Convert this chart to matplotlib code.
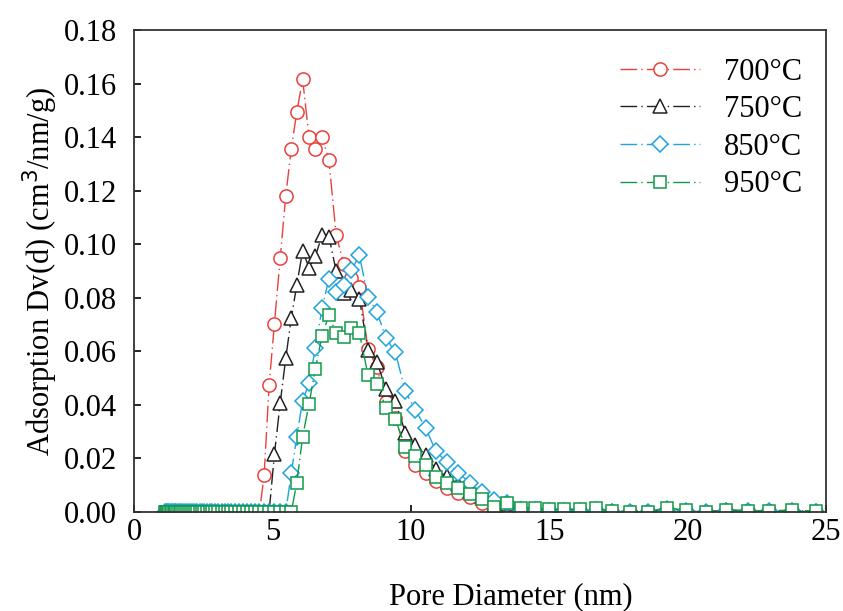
import matplotlib.pyplot as plt
from matplotlib.ticker import FormatStrFormatter

plt.rcParams['font.family'] = ['Liberation Serif', 'DejaVu Serif']

# pore diameter grid (nm), shared by all four samples
pore_d = [1.11, 1.15, 1.19, 1.23, 1.28, 1.33, 1.38, 1.43, 1.48, 1.53, 1.59, 1.65,
          1.71, 1.77, 1.84, 1.90, 1.97, 2.05, 2.12, 2.20, 2.28, 2.37, 2.45, 2.54,
          2.64, 2.73, 2.83, 2.94, 3.04, 3.16, 3.27, 3.39, 3.52, 3.65, 3.78, 3.92,
          4.07, 4.22, 4.37, 4.53,
          4.70, 4.88, 5.07, 5.28, 5.48, 5.68, 5.88, 6.09, 6.32, 6.55, 6.79, 7.04,
          7.30, 7.57, 7.85, 8.14, 8.45, 8.77, 9.10, 9.44, 9.80, 10.16, 10.53, 10.90,
          11.29, 11.70, 12.13, 12.57, 13.02, 13.49, 13.97, 14.48, 15.00, 15.54, 16.10,
          16.68, 17.28, 17.92, 18.57, 19.24, 19.93, 20.65, 21.39, 22.16, 22.95, 23.78,
          24.65]

zeros40 = [0.0] * 40

dv_700 = zeros40 + [
    0.0138, 0.0475, 0.0702, 0.0948, 0.1180, 0.1357, 0.1493, 0.1616, 0.1400, 0.1354,
    0.1402, 0.1313, 0.1035, 0.0927, 0.0875, 0.0841, 0.0610, 0.0540, 0.0410, 0.0352,
    0.0228, 0.0176, 0.0145, 0.0115, 0.0090, 0.0072, 0.0055, 0.0035, 0.0006, 0.0010,
    0.0004, 0.0004, 0.0002, 0.0003, 0.0003, 0.0005, 0.0001, 0.0000, 0.0000, 0.0008,
    0.0002, 0.0000, 0.0004, 0.0002, 0.0002, 0.0003, 0.0001]

dv_750 = zeros40 + [
    0.0000, 0.0000, 0.0215, 0.0407, 0.0574, 0.0724, 0.0849, 0.0975, 0.0912, 0.0955,
    0.1033, 0.1028, 0.0900, 0.0816, 0.0828, 0.0797, 0.0606, 0.0562, 0.0459, 0.0413,
    0.0296, 0.0250, 0.0212, 0.0160, 0.0135, 0.0105, 0.0080, 0.0055, 0.0025, 0.0030,
    0.0012, 0.0012, 0.0008, 0.0008, 0.0008, 0.0012, 0.0003, 0.0000, 0.0000, 0.0014,
    0.0005, 0.0000, 0.0007, 0.0004, 0.0004, 0.0005, 0.0002]

dv_850 = zeros40 + [
    0.0000, 0.0000, 0.0000, 0.0000, 0.0000, 0.0145, 0.0281, 0.0416, 0.0480, 0.0612,
    0.0760, 0.0871, 0.0821, 0.0846, 0.0902, 0.0958, 0.0803, 0.0748, 0.0650, 0.0596,
    0.0450, 0.0382, 0.0314, 0.0228, 0.0186, 0.0147, 0.0110, 0.0074, 0.0045, 0.0035,
    0.0008, 0.0005, 0.0003, 0.0003, 0.0003, 0.0004, 0.0001, 0.0000, 0.0000, 0.0008,
    0.0002, 0.0000, 0.0003, 0.0002, 0.0002, 0.0003, 0.0001]

dv_950 = zeros40 + [
    0.0000, 0.0000, 0.0000, 0.0000, 0.0000, 0.0000, 0.0110, 0.0281, 0.0403, 0.0535,
    0.0658, 0.0735, 0.0667, 0.0653, 0.0686, 0.0669, 0.0512, 0.0478, 0.0390, 0.0346,
    0.0243, 0.0209, 0.0175, 0.0129, 0.0110, 0.0088, 0.0069, 0.0047, 0.0019, 0.0035,
    0.0015, 0.0015, 0.0011, 0.0011, 0.0011, 0.0014, 0.0005, 0.0001, 0.0001, 0.0016,
    0.0006, 0.0001, 0.0009, 0.0005, 0.0005, 0.0007, 0.0003]

labels = ['700°C', '750°C', '850°C', '950°C']
colors = ['#E8413C', '#222222', '#1CA3E0', '#109A4A']
markers = ['o', '^', 'D', 's']
msizes = [9.5, 9.5, 7.8, 8.2]

fig = plt.figure(figsize=(8.43, 6.11), dpi=100)
ax = fig.add_axes([0.159, 0.162, 0.821, 0.789])

for y, lab, c, m, ms in zip([dv_700, dv_750, dv_850, dv_950], labels, colors, markers, msizes):
    ax.plot(pore_d, y, color=c, linestyle=(0, (12, 3, 1, 3)), linewidth=1.0,
            marker=m, markersize=ms, markerfacecolor='white', markeredgecolor=c,
            markeredgewidth=1.1, label=lab)

ax.set_xlim(0, 25)
ax.set_ylim(0, 0.18)
ax.set_xticks([0, 5, 10, 15, 20, 25])
ax.set_yticks([0, 0.02, 0.04, 0.06, 0.08, 0.10, 0.12, 0.14, 0.16, 0.18])
ax.yaxis.set_major_formatter(FormatStrFormatter('%.2f'))
ax.tick_params(direction='in', length=5, width=1.2, labelsize=22)
ax.tick_params(axis='y', pad=12)
ax.tick_params(axis='x', pad=4)
for s in ax.spines.values():
    s.set_linewidth(1.3)
    s.set_color('#333333')

ax.set_xlabel('Pore Diameter (nm)', fontsize=22)
ax.xaxis.set_label_coords(0.545, -0.145)
ax.set_ylabel('Adsorption Dv(d) (cm$^3$/nm/g)', fontsize=22, labelpad=3)

ax.legend(loc='upper right', frameon=False, fontsize=22, handlelength=2.6,
          handletextpad=0.8, labelspacing=0.28, borderaxespad=0.6,
          bbox_to_anchor=(1.01, 1.006))

fig.savefig('out.png', dpi=100)
